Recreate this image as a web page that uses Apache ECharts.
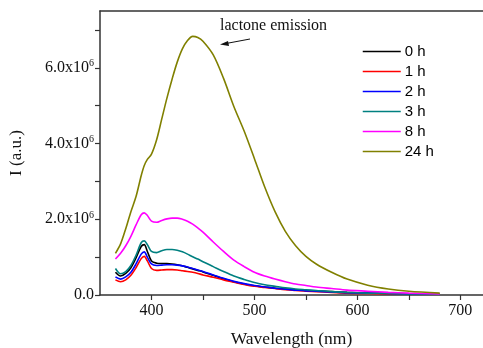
<!DOCTYPE html>
<html>
<head>
<meta charset="utf-8">
<script src="https://cdn.jsdelivr.net/npm/echarts@6/dist/echarts.min.js"></script>
<style>
  html, body { margin: 0; padding: 0; background: #fff; }
  #chart { width: 483px; height: 348px; }
</style>
</head>
<body>
<div id="chart"></div>
<script>
// wavelength grid (nm), intensities in units of 10^6
const wavelengths = [365, 370, 375, 380, 385, 390, 393, 396, 400, 405, 410, 415, 420, 425, 430, 435, 440, 445, 450,
  460, 470, 480, 490, 500, 510, 520, 530, 540, 550, 560, 575, 590, 610, 630, 650, 680]

const seriesNames = ['0 h', '1 h', '2 h', '3 h', '8 h', '24 h']
const seriesColors = ['#000000', '#ff0000', '#0000ff', '#008080', '#ff00ff', '#808000']

const h0 = [0.60, 0.50, 0.57, 0.72, 0.98, 1.28, 1.33, 1.15, 0.90, 0.84, 0.83, 0.83, 0.82, 0.80, 0.77, 0.73, 0.69, 0.65, 0.61,
  0.52, 0.43, 0.35, 0.29, 0.24, 0.21, 0.18, 0.16, 0.14, 0.12, 0.11, 0.09, 0.07, 0.05, 0.04, 0.03, 0.02]
const h1 = [0.40, 0.35, 0.40, 0.52, 0.72, 0.96, 1.02, 0.90, 0.70, 0.65, 0.66, 0.67, 0.67, 0.66, 0.64, 0.62, 0.60, 0.57, 0.53,
  0.47, 0.40, 0.34, 0.28, 0.23, 0.20, 0.17, 0.14, 0.12, 0.10, 0.09, 0.07, 0.05, 0.04, 0.03, 0.02, 0.02]
const h2 = [0.48, 0.42, 0.48, 0.60, 0.82, 1.08, 1.14, 1.00, 0.82, 0.78, 0.79, 0.80, 0.80, 0.79, 0.77, 0.74, 0.70, 0.66, 0.62,
  0.53, 0.44, 0.36, 0.30, 0.25, 0.21, 0.18, 0.15, 0.13, 0.11, 0.10, 0.08, 0.06, 0.05, 0.04, 0.03, 0.02]
const h3 = [0.70, 0.56, 0.62, 0.78, 1.05, 1.38, 1.43, 1.33, 1.15, 1.12, 1.17, 1.20, 1.20, 1.18, 1.14, 1.08, 1.01, 0.95, 0.88,
  0.75, 0.62, 0.50, 0.41, 0.33, 0.27, 0.23, 0.19, 0.16, 0.14, 0.12, 0.09, 0.07, 0.05, 0.04, 0.03, 0.02]
const h8 = [0.95, 1.10, 1.30, 1.55, 1.85, 2.12, 2.17, 2.10, 1.95, 1.92, 1.97, 2.01, 2.03, 2.03, 2.00, 1.95, 1.87, 1.77, 1.66,
  1.40, 1.15, 0.92, 0.75, 0.60, 0.50, 0.42, 0.35, 0.29, 0.25, 0.21, 0.17, 0.13, 0.10, 0.07, 0.05, 0.03]
const h24 = [1.10, 1.35, 1.75, 2.20, 2.60, 3.15, 3.42, 3.58, 3.72, 4.10, 4.65, 5.20, 5.70, 6.15, 6.50, 6.72, 6.83, 6.80, 6.70,
  6.34, 5.72, 4.98, 4.33, 3.60, 2.85, 2.20, 1.68, 1.30, 1.02, 0.82, 0.60, 0.42, 0.26, 0.16, 0.10, 0.05]

const allValues = [h0, h1, h2, h3, h8, h24]

const yLabels = [0, 2, 4, 6]
const yTicks = [0, 1, 2, 3, 4, 5, 6, 7]
const xLabels = [400, 500, 600, 700]
const xTicks = [400, 450, 500, 550, 600, 650, 700]

const serif = '"Liberation Serif", "Times New Roman", serif'
const axisColor = '#333'

const chart = echarts.init(document.getElementById('chart'))

const series = seriesNames.map((name, i) => ({
  name,
  type: 'line',
  showSymbol: false,
  symbol: 'none',
  smooth: 0.3,
  lineStyle: { color: seriesColors[i], width: 1.6 },
  itemStyle: { color: seriesColors[i] },
  data: wavelengths.map((w, j) => [w, allValues[i][j]])
}))

chart.setOption({
  animation: false,
  backgroundColor: '#fff',
  grid: { left: 100, right: 0, top: 11, bottom: 53, containLabel: false, outerBoundsMode: 'none' },
  legend: {
    orient: 'vertical',
    left: 357,
    top: 39,
    itemWidth: 38,
    itemHeight: 10,
    itemGap: 5,
    itemStyle: { opacity: 0 },
    lineStyle: { width: 1.5 },
    textStyle: { fontFamily: '"Liberation Sans", Arial, sans-serif', fontSize: 15, color: '#000', padding: [0, 0, 0, -1] },
    data: seriesNames
  },
  xAxis: [{
    type: 'value',
    min: 350,
    max: 722,
    interval: 50,
    name: 'Wavelength (nm)',
    nameLocation: 'middle',
    nameGap: 35,
    nameTextStyle: { fontFamily: serif, fontSize: 17.5, color: '#111' },
    axisLine: { show: true, lineStyle: { color: axisColor, width: 1.5 } },
    axisTick: { show: true, length: 5, customValues: xTicks, lineStyle: { color: axisColor, width: 1.2 } },
    axisLabel: { customValues: xLabels, fontFamily: serif, fontSize: 16, color: '#111', margin: 8 },
    splitLine: { show: false }
  }, {
    type: 'value',
    position: 'top',
    min: 350,
    max: 722,
    axisLine: { show: true, lineStyle: { color: axisColor, width: 1.5 } },
    axisTick: { show: false },
    axisLabel: { show: false },
    splitLine: { show: false }
  }],
  yAxis: {
    type: 'value',
    min: 0,
    max: 7.5,
    interval: 1,
    name: 'I (a.u.)',
    nameLocation: 'middle',
    nameGap: 75,
    nameRotate: 90,
    nameTextStyle: { fontFamily: serif, fontSize: 17, color: '#111' },
    axisLine: { show: true, lineStyle: { color: axisColor, width: 1.5 } },
    axisTick: { show: true, length: 5, customValues: yTicks, lineStyle: { color: axisColor, width: 1.2 } },
    axisLabel: {
      customValues: yLabels,
      margin: 6,
      fontFamily: serif,
      fontSize: 16,
      color: '#111',
      formatter: v => v === 0 ? '0.0' : v.toFixed(1) + 'x10{sup|6}',
      rich: {
        sup: { fontFamily: serif, fontSize: 10, color: '#111', verticalAlign: 'top', padding: [0, 0, 8, 0] }
      }
    },
    splitLine: { show: false }
  },
  graphic: [
    {
      type: 'text',
      left: 220,
      top: 18,
      style: { text: 'lactone emission', font: '16px ' + serif, fill: '#111' }
    },
    {
      type: 'line',
      shape: { x1: 250, y1: 39, x2: 226, y2: 43.5 },
      style: { stroke: '#111', lineWidth: 1 }
    },
    {
      type: 'polygon',
      shape: { points: [[220, 44.5], [228, 41], [229, 46]] },
      style: { fill: '#111' }
    }
  ],
  series
})
</script>
</body>
</html>
